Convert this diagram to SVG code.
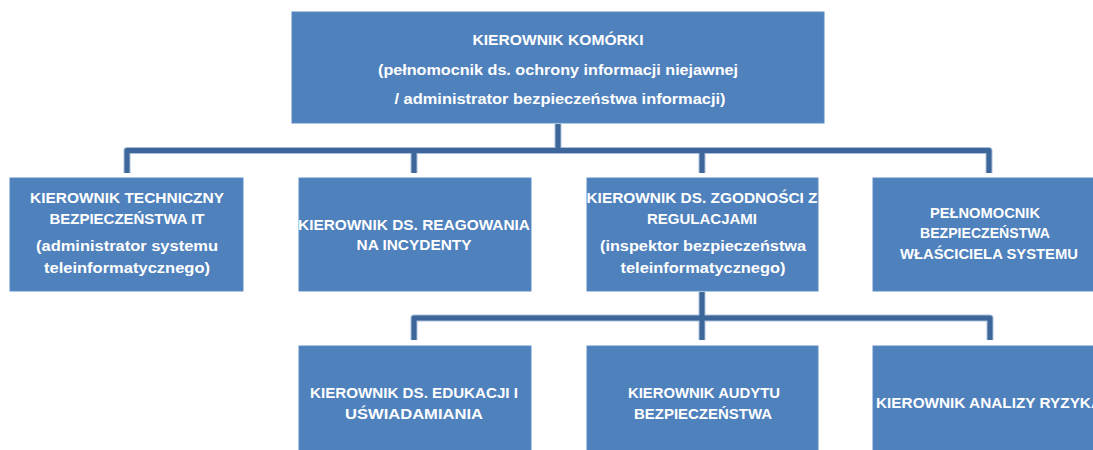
<svg xmlns="http://www.w3.org/2000/svg" width="1093" height="450" viewBox="0 0 1093 450">
<style>
.box{fill:#4F81BD;stroke:#5C8CC4;stroke-width:1}
.t{font-family:"Liberation Sans",Arial,sans-serif;font-size:14px;font-weight:bold;fill:#FFFFFF;text-anchor:middle}
.c{fill:none;stroke:#3D679A;stroke-width:5;stroke-linejoin:round}
.cg{fill:none;stroke:#A9BEDB;stroke-width:7;stroke-linejoin:round}
</style>
<rect width="1093" height="450" fill="#FFFFFF"/>
<g id="connectors">
<path class="cg" d="M558 124V150.5M127 173V150.5H989V173M414 150.5V173M702 150.5V173M702 292V340M414 340V318H990V340"/>
<path class="c" d="M558 124V150.5M127 173V150.5H989V173M414 150.5V173M702 150.5V173M702 292V340M414 340V318H990V340"/>
</g>
<g id="n-top">
<rect class="box" x="292" y="12" width="532" height="111"/>
<text class="t" x="558" y="45" textLength="171" lengthAdjust="spacingAndGlyphs">KIEROWNIK KOMÓRKI</text>
<text class="t" x="558" y="75" textLength="360" lengthAdjust="spacingAndGlyphs">(pełnomocnik ds. ochrony informacji niejawnej</text>
<text class="t" x="560" y="104" textLength="331" lengthAdjust="spacingAndGlyphs">/ administrator bezpieczeństwa informacji)</text>
</g>
<g id="n-tech">
<rect class="box" x="10" y="178" width="233" height="113"/>
<text class="t" x="127" y="203" textLength="194" lengthAdjust="spacingAndGlyphs">KIEROWNIK TECHNICZNY</text>
<text class="t" x="127" y="224" textLength="155" lengthAdjust="spacingAndGlyphs">BEZPIECZEŃSTWA IT</text>
<text class="t" x="127" y="251" textLength="182" lengthAdjust="spacingAndGlyphs">(administrator systemu</text>
<text class="t" x="127" y="273" textLength="166" lengthAdjust="spacingAndGlyphs">teleinformatycznego)</text>
</g>
<g id="n-incydenty">
<rect class="box" x="299" y="178" width="232" height="113"/>
<text class="t" x="414" y="230" textLength="232" lengthAdjust="spacingAndGlyphs">KIEROWNIK DS. REAGOWANIA</text>
<text class="t" x="414" y="250" textLength="115" lengthAdjust="spacingAndGlyphs">NA INCYDENTY</text>
</g>
<g id="n-zgodnosc">
<rect class="box" x="587" y="178" width="231" height="113"/>
<text class="t" x="702" y="203" textLength="231" lengthAdjust="spacingAndGlyphs">KIEROWNIK DS. ZGODNOŚCI Z</text>
<text class="t" x="702" y="224" textLength="110" lengthAdjust="spacingAndGlyphs">REGULACJAMI</text>
<text class="t" x="703" y="251" textLength="206" lengthAdjust="spacingAndGlyphs">(inspektor bezpieczeństwa</text>
<text class="t" x="703" y="273" textLength="165" lengthAdjust="spacingAndGlyphs">teleinformatycznego)</text>
</g>
<g id="n-pelnomocnik">
<rect class="box" x="873" y="178" width="232" height="113"/>
<text class="t" x="985" y="218" textLength="110" lengthAdjust="spacingAndGlyphs">PEŁNOMOCNIK</text>
<text class="t" x="985" y="238" textLength="130" lengthAdjust="spacingAndGlyphs">BEZPIECZEŃSTWA</text>
<text class="t" x="989" y="259" textLength="178" lengthAdjust="spacingAndGlyphs">WŁAŚCICIELA SYSTEMU</text>
</g>
<g id="n-edukacja">
<rect class="box" x="299" y="346" width="232" height="110"/>
<text class="t" x="414" y="398" textLength="208" lengthAdjust="spacingAndGlyphs">KIEROWNIK DS. EDUKACJI I</text>
<text class="t" x="414" y="419" textLength="138" lengthAdjust="spacingAndGlyphs">UŚWIADAMIANIA</text>
</g>
<g id="n-audyt">
<rect class="box" x="587" y="346" width="231" height="110"/>
<text class="t" x="704" y="398" textLength="152" lengthAdjust="spacingAndGlyphs">KIEROWNIK AUDYTU</text>
<text class="t" x="703" y="419" textLength="138" lengthAdjust="spacingAndGlyphs">BEZPIECZEŃSTWA</text>
</g>
<g id="n-ryzyko">
<rect class="box" x="873" y="346" width="232" height="110"/>
<text class="t" x="989" y="408" textLength="226" lengthAdjust="spacingAndGlyphs">KIEROWNIK ANALIZY RYZYKA</text>
</g>
</svg>
